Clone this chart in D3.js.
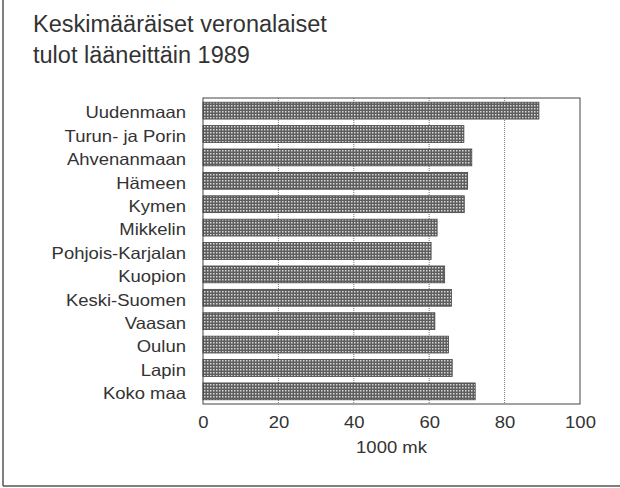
<!DOCTYPE html>
<html>
<head>
    <meta charset="utf-8">
    <script src="https://d3js.org/d3.v7.min.js"></script>
    <style>
        body, html { margin: 0; padding: 0; background: #fff; }
        svg { display: block; }
        text { font-family: "Liberation Sans", Arial, sans-serif; fill: #333; }
        .title { font-size: 23.5px; }
        .cat { font-size: 16.5px; }
    </style>
</head>
<body>
    <svg width="620" height="488"></svg>
    <script>
        // Data (1000 mk)
        const regions = ["Uudenmaan", "Turun- ja Porin", "Ahvenanmaan", "Hämeen", "Kymen",
            "Mikkelin", "Pohjois-Karjalan", "Kuopion", "Keski-Suomen", "Vaasan",
            "Oulun", "Lapin", "Koko maa"];
        const income = [89.1, 69.2, 71.3, 70.2, 69.3, 62.1, 60.5, 64.1, 65.9, 61.5, 65.1, 66.1, 72.2];
        const ticks = [0, 20, 40, 60, 80, 100];
        const titleLines = ["Keskimääräiset veronalaiset", "tulot lääneittäin 1989"];

        const svg = d3.select("svg");
        const plotLeft = 203, plotRight = 580, plotTop = 98, plotBottom = 404;
        const stretch = 1.12; // the printed type is a bit wider than Liberation Sans

        // checker pattern for the bars
        const defs = svg.append("defs");
        const pat = defs.append("pattern")
            .attr("id", "dots")
            .attr("width", 3).attr("height", 3)
            .attr("patternUnits", "userSpaceOnUse");
        pat.append("rect").attr("width", 3).attr("height", 3).attr("fill", "#5e5e5e");
        pat.append("rect").attr("width", 1.5).attr("height", 1.5).attr("fill", "#d8d8d8");

        // page frame (left and bottom edges)
        svg.append("line").attr("x1", 3).attr("x2", 3).attr("y1", 0).attr("y2", 486)
            .attr("stroke", "#555").attr("stroke-width", 1.5);
        svg.append("line").attr("x1", 3).attr("x2", 620).attr("y1", 486).attr("y2", 486)
            .attr("stroke", "#555").attr("stroke-width", 1.5);

        // title
        svg.selectAll(".title")
            .data(titleLines)
            .enter().append("text")
            .attr("class", "title")
            .attr("x", 33)
            .attr("y", (d, i) => 32 + i * 31)
            .text(d => d);

        const x = d3.scaleLinear().domain([0, 100]).range([plotLeft, plotRight]);
        const y = d3.scaleBand().domain(regions).range([plotTop, plotBottom])
            .paddingInner(0.28).paddingOuter(0.18);

        // gridlines
        svg.append("g")
            .selectAll("line")
            .data(ticks.filter(t => t > 0 && t < 100))
            .enter().append("line")
            .attr("x1", d => x(d)).attr("x2", d => x(d))
            .attr("y1", plotTop).attr("y2", plotBottom)
            .attr("stroke", "#777")
            .attr("stroke-width", 1)
            .attr("stroke-dasharray", "1,1");

        // bars
        svg.append("g")
            .selectAll("rect")
            .data(regions)
            .enter().append("rect")
            .attr("x", x(0))
            .attr("y", d => y(d))
            .attr("width", (d, i) => x(income[i]) - x(0))
            .attr("height", y.bandwidth())
            .attr("fill", "url(#dots)")
            .attr("stroke", "#444")
            .attr("stroke-width", 0.8);

        // plot frame
        svg.append("rect")
            .attr("x", plotLeft).attr("y", plotTop)
            .attr("width", plotRight - plotLeft).attr("height", plotBottom - plotTop)
            .attr("fill", "none")
            .attr("stroke", "#444")
            .attr("stroke-width", 1);

        // category labels
        svg.append("g")
            .selectAll("text")
            .data(regions)
            .enter().append("text")
            .attr("class", "cat")
            .attr("transform", d => `translate(186,${y(d) + y.bandwidth() / 2}) scale(${stretch},1)`)
            .attr("dy", "0.47em")
            .attr("text-anchor", "end")
            .text(d => d);

        // x axis labels
        const xAxis = d3.axisBottom(x).tickValues(ticks).tickSize(0).tickPadding(12);
        const ax = svg.append("g")
            .attr("transform", `translate(0,${plotBottom})`)
            .call(xAxis);
        ax.select(".domain").remove();
        ax.selectAll(".tick text")
            .attr("class", "cat")
            .attr("fill", "#333")
            .attr("font-family", null)
            .attr("font-size", null)
            .attr("transform", `scale(${stretch},1)`);

        svg.append("text")
            .attr("class", "cat")
            .attr("transform", `translate(${(plotLeft + plotRight) / 2},453) scale(${stretch},1)`)
            .attr("text-anchor", "middle")
            .text("1000 mk");
    </script>
</body>
</html>
